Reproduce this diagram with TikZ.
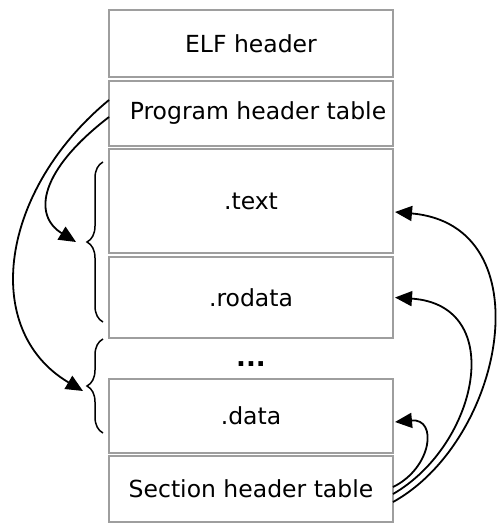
\documentclass[tikz,border=0pt]{standalone}
\usepackage{fontspec}
\setmainfont{DejaVu Sans}
\usetikzlibrary{arrows.meta,decorations.pathreplacing}
\begin{document}
\begin{tikzpicture}[x=1pt,y=-1pt,
  secbox/.style={draw=black!38,line width=1.4pt,minimum width=284pt,inner sep=0pt,outer sep=0pt,
    font=\fontsize{23.5}{27}\selectfont},
  arr/.style={line width=1.8pt,-{Triangle[length=17pt,width=15pt]}},
  bracestyle/.style={line width=1.5pt,decorate,decoration={brace,amplitude=16pt}}]
\useasboundingbox (0,0) rectangle (500,532);
\node[secbox,minimum height=67pt] (elf) at (251,43.5) {ELF header};
\node[secbox,minimum height=65pt] (pht) at (251,113.5) {\hspace*{14pt}Program header table};
\node[secbox,minimum height=104pt] (text) at (251,201) {.text};
\node[secbox,minimum height=81pt] (rodata) at (251,297.5) {.rodata};
\node[font=\fontsize{26}{30}\selectfont\bfseries,inner sep=0pt] (dots) at (251,364) {...};
\node[secbox,minimum height=74pt] (data) at (251,416) {.data};
\node[secbox,minimum height=66pt] (sht) at (251,489) {Section header table};
% braces
\coordinate (b1top) at (103,162);
\coordinate (b1bot) at (103,322);
\coordinate (b2top) at (103,339);
\coordinate (b2bot) at (103,433);
\draw[bracestyle] (b1bot) -- (b1top);
\draw[bracestyle] (b2bot) -- (b2top);
\coordinate (t1) at (76,242);
\coordinate (t2) at (83,391);
% left arrows
\draw[arr] ([yshift=13.5pt]pht.west) .. controls (0,190) and (-20,330) .. (t2);
\draw[arr] ([yshift=-3.5pt]pht.west) .. controls (40,170) and (32,215) .. (t1);
% right arrows
\draw[arr] ([yshift=-13pt]sht.east) .. controls (505,440) and (545,225) .. ([xshift=2pt,yshift=-11pt]text.east);
\draw[arr] ([yshift=-5pt]sht.east) .. controls (478,445) and (508,305) .. ([xshift=2pt]rodata.east);
\draw[arr] ([yshift=2pt]sht.east) .. controls (432,468) and (438,418) .. ([xshift=2pt,yshift=-6pt]data.east);
\end{tikzpicture}
\end{document}
